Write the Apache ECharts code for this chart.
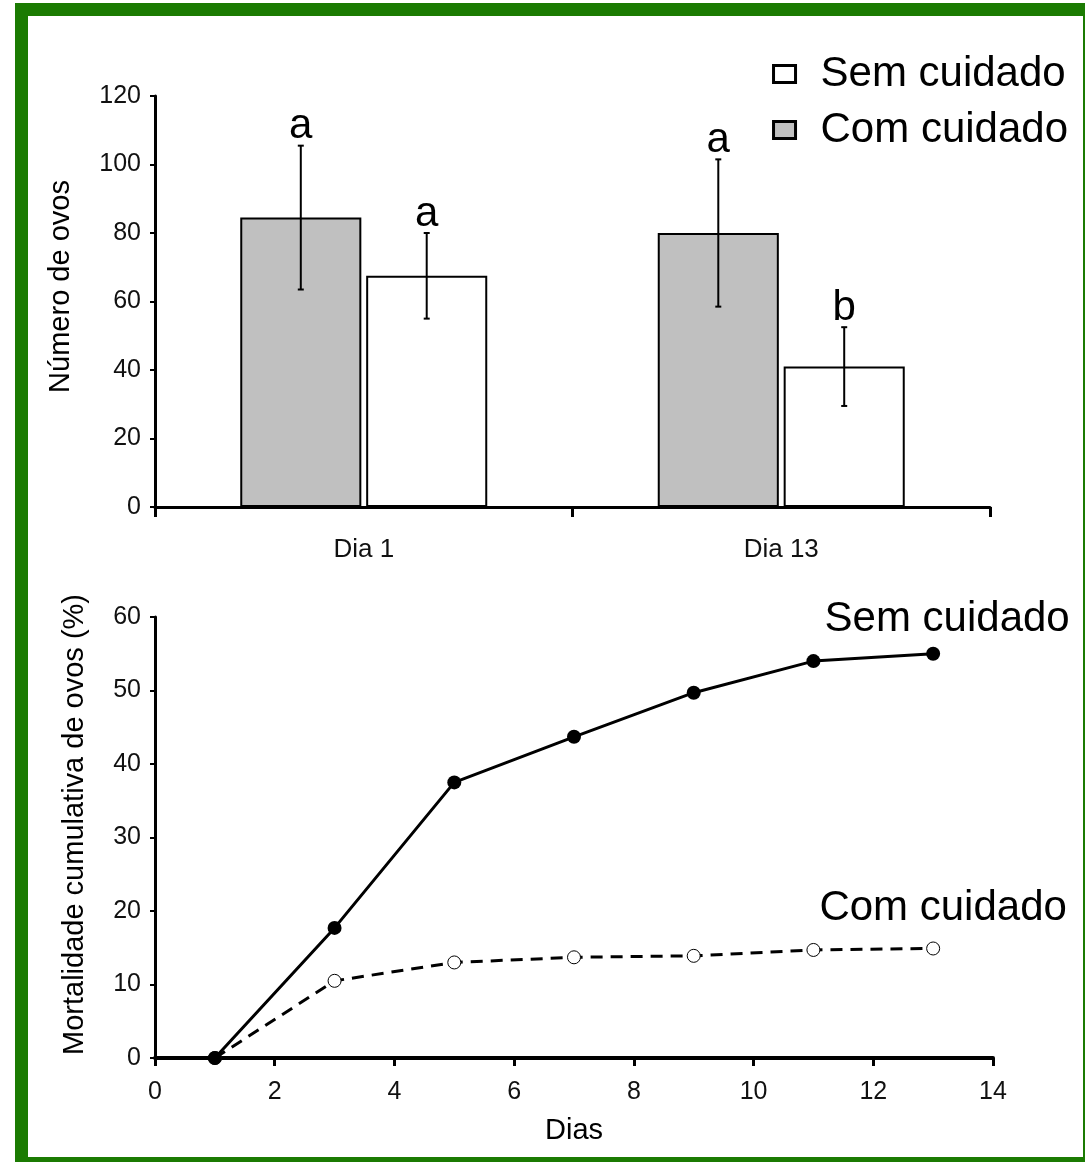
<!DOCTYPE html>
<html><head><meta charset="utf-8">
<script src="https://cdn.jsdelivr.net/npm/echarts@6/dist/echarts.min.js"></script>
<style>html,body{margin:0;padding:0;background:#fff}#c{width:1087px;height:1162px}</style>
</head><body><div id="c"></div>
<script>
// ---- data ----
const barCategories = ['Dia 1', 'Dia 13'];
const comMean = [84.5, 80];
const comErr = [21, 21.5];
const semMean = [67.5, 41];
const semErr = [12.5, 11.5];
const comLetters = ['a', 'a'];
const semLetters = ['a', 'b'];
const barTicks = [0, 20, 40, 60, 80, 100, 120];

const days = [1, 3, 5, 7, 9, 11, 13];
const semMort = [0, 17.7, 37.5, 43.7, 49.7, 54, 55];
const comMort = [0, 10.5, 13, 13.7, 13.9, 14.7, 14.9];

// ---- styling constants ----
const FONT = 'Liberation Sans, Arial, sans-serif';
const BAR_FRAC = 0.29, GAP_FRAC = 0.04;
const GREEN = '#1b7b02';

const chart = echarts.init(document.getElementById('c'), null, {renderer: 'canvas'});

function errRender(sign, letters) {
  return function (params, api) {
    const i = api.value(0);
    const band = api.size([1, 0])[0];
    const barW = band * BAR_FRAC, gap = barW * GAP_FRAC;
    const dx = sign * (barW + gap) / 2;
    const hi = api.coord([i, api.value(2)]);
    const lo = api.coord([i, api.value(1)]);
    const x = hi[0] + dx;
    const st = {stroke: '#000', lineWidth: 2};
    return {type: 'group', children: [
      {type: 'line', shape: {x1: x, y1: hi[1], x2: x, y2: lo[1]}, style: st},
      {type: 'line', shape: {x1: x - 3, y1: hi[1], x2: x + 3, y2: hi[1]}, style: st},
      {type: 'line', shape: {x1: x - 3, y1: lo[1], x2: x + 3, y2: lo[1]}, style: st},
      {type: 'text', x: x, y: hi[1] + 2, style: {text: letters[params.dataIndex], fill: '#000',
        fontSize: 42, fontFamily: FONT, align: 'center', verticalAlign: 'bottom'}}
    ]};
  };
}

function lineData(xs, ys, labelText, offset) {
  return xs.map((d, i) => {
    const item = {value: [d, ys[i]]};
    if (i === xs.length - 1) {
      item.label = {show: true, formatter: labelText, position: 'inside', offset: offset,
        fontSize: 42, fontFamily: FONT, color: '#000', align: 'center', verticalAlign: 'middle'};
    }
    return item;
  });
}

const axisTxt = {color: '#111', fontSize: 25, fontFamily: FONT};
const nameTxt = {color: '#000', fontSize: 29, fontFamily: FONT};

chart.setOption({
  animation: false,
  backgroundColor: '#fff',
  graphic: [
    {type: 'rect', z: -20, silent: true, shape: {x: 15, y: 3, width: 1070, height: 1159}, style: {fill: GREEN}},
    {type: 'rect', z: -19, silent: true, shape: {x: 28, y: 16, width: 1055, height: 1141}, style: {fill: '#fff'}}
  ],
  legend: {
    data: ['Sem cuidado', 'Com cuidado'],
    orient: 'vertical', right: 19, top: 52, padding: 0, align: 'left',
    icon: 'rect', itemWidth: 22, itemHeight: 17, itemGap: 12,
    itemStyle: {borderColor: '#000', borderWidth: 3},
    textStyle: {fontSize: 42, fontFamily: FONT, color: '#000', lineHeight: 44, padding: [0, 0, 0, 20]},
    selectedMode: false
  },
  grid: [
    {left: 155, top: 96, width: 835, height: 411},
    {left: 155, top: 617, width: 838, height: 441}
  ],
  xAxis: [
    {type: 'category', gridIndex: 0, data: barCategories, boundaryGap: true,
      axisLine: {lineStyle: {color: '#000', width: 3}},
      axisTick: {show: true, length: 10, lineStyle: {color: '#000', width: 3}},
      axisLabel: Object.assign({margin: 30}, axisTxt, {fontSize: 26}),
      splitLine: {show: false}},
    {type: 'value', gridIndex: 1, min: 0, max: 14, interval: 2,
      name: 'Dias', nameLocation: 'middle', nameGap: 58, nameTextStyle: nameTxt,
      axisLine: {show: true, onZero: false, lineStyle: {color: '#000', width: 4}},
      axisTick: {show: true, length: 8, lineStyle: {color: '#000', width: 3}},
      axisLabel: Object.assign({margin: 22}, axisTxt),
      splitLine: {show: false}}
  ],
  yAxis: [
    {type: 'value', gridIndex: 0, min: 0, max: 120, interval: 20,
      name: 'Número de ovos', nameLocation: 'middle', nameGap: 80,
      nameTextStyle: Object.assign({padding: [0, 0, 0, 30]}, nameTxt),
      axisLine: {show: true, lineStyle: {color: '#000', width: 3}},
      axisTick: {show: true, length: 5, lineStyle: {color: '#000', width: 2}},
      axisLabel: Object.assign({margin: 14}, axisTxt),
      splitLine: {show: false}},
    {type: 'value', gridIndex: 1, min: 0, max: 60, interval: 10,
      name: 'Mortalidade cumulativa de ovos (%)', nameLocation: 'middle', nameGap: 66,
      nameTextStyle: Object.assign({padding: [0, 0, 0, 26]}, nameTxt),
      axisLine: {show: true, onZero: false, lineStyle: {color: '#000', width: 3}},
      axisTick: {show: true, length: 5, lineStyle: {color: '#000', width: 2}},
      axisLabel: Object.assign({margin: 14}, axisTxt),
      splitLine: {show: false}}
  ],
  series: [
    {name: 'Com cuidado', type: 'bar', xAxisIndex: 0, yAxisIndex: 0, data: comMean,
      barWidth: (BAR_FRAC * 100) + '%', barGap: (GAP_FRAC * 100) + '%',
      itemStyle: {color: '#c0c0c0', borderColor: '#000', borderWidth: 2}},
    {name: 'Sem cuidado', type: 'bar', xAxisIndex: 0, yAxisIndex: 0, data: semMean,
      barWidth: (BAR_FRAC * 100) + '%', barGap: (GAP_FRAC * 100) + '%',
      itemStyle: {color: '#fff', borderColor: '#000', borderWidth: 2}},
    {type: 'custom', xAxisIndex: 0, yAxisIndex: 0, z: 10,
      data: comMean.map((m, i) => [i, m - comErr[i], m + comErr[i]]),
      encode: {x: 0, y: [1, 2]}, renderItem: errRender(-1, comLetters)},
    {type: 'custom', xAxisIndex: 0, yAxisIndex: 0, z: 10,
      data: semMean.map((m, i) => [i, m - semErr[i], m + semErr[i]]),
      encode: {x: 0, y: [1, 2]}, renderItem: errRender(1, semLetters)},
    {name: 'Com cuidado', type: 'line', xAxisIndex: 1, yAxisIndex: 1, z: 3,
      data: lineData(days, comMort, 'Com cuidado', [10, -40]),
      symbol: 'circle', symbolSize: 13, showAllSymbol: true,
      itemStyle: {color: '#fff', borderColor: '#000', borderWidth: 1},
      lineStyle: {color: '#000', width: 3, type: [12, 8]}},
    {name: 'Sem cuidado', type: 'line', xAxisIndex: 1, yAxisIndex: 1, z: 4,
      data: lineData(days, semMort, 'Sem cuidado', [14, -34]),
      symbol: 'circle', symbolSize: 14, showAllSymbol: true,
      itemStyle: {color: '#000', borderColor: '#000', borderWidth: 0},
      lineStyle: {color: '#000', width: 3}}
  ]
});
</script>
</body></html>
